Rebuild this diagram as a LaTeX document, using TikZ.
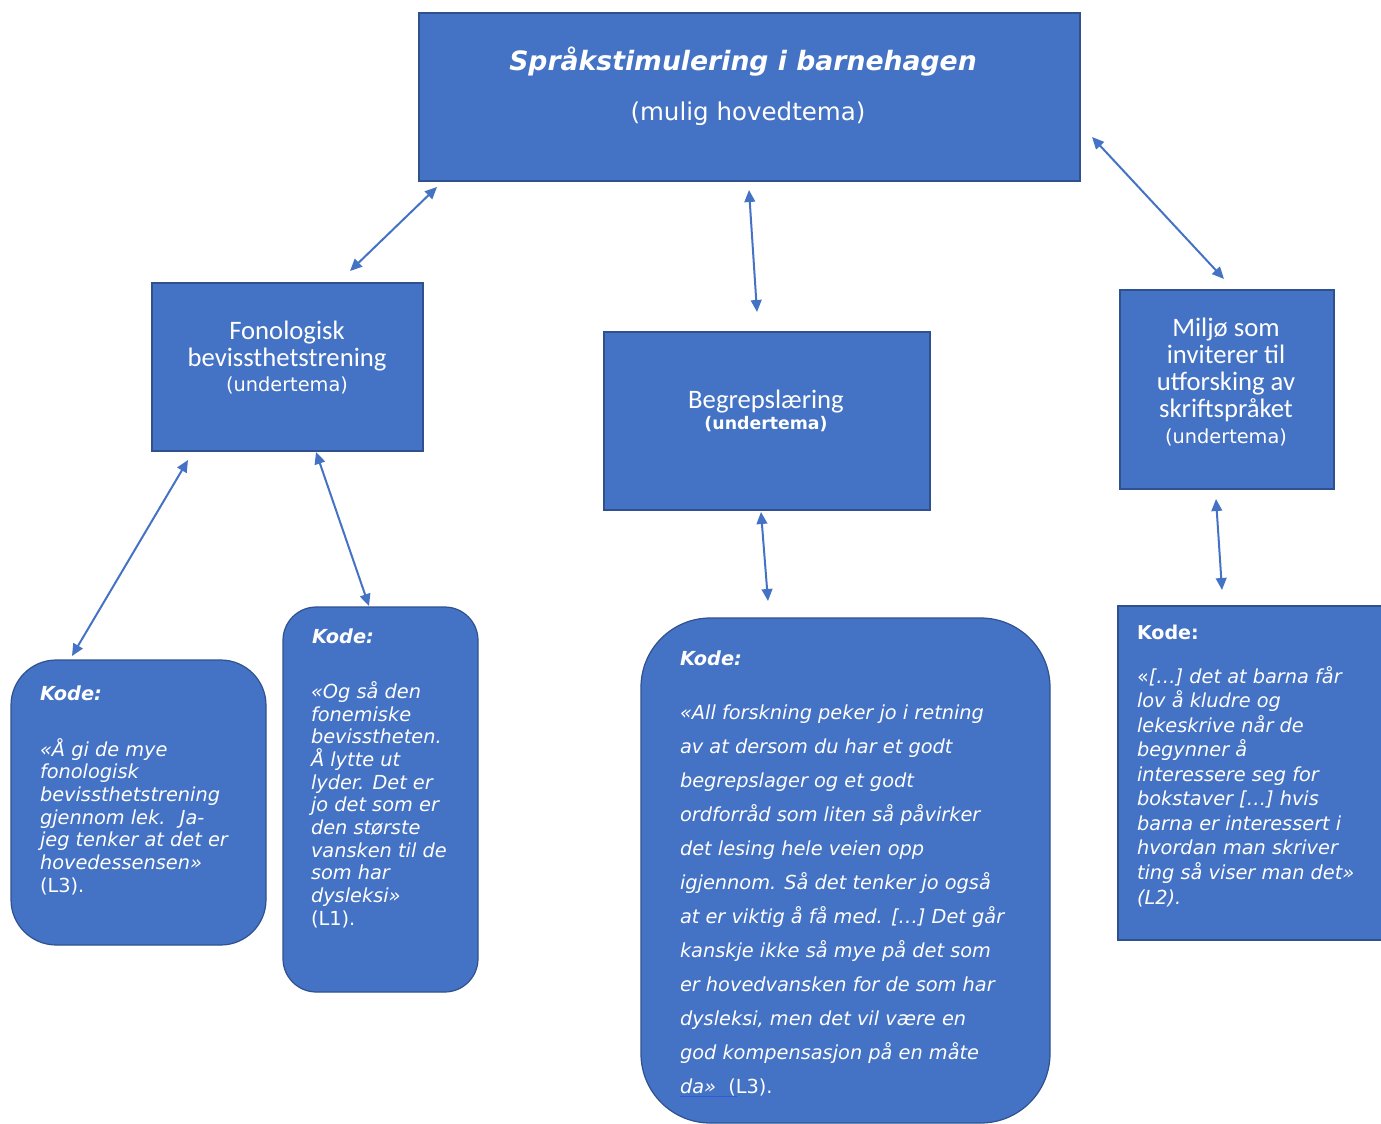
\documentclass[tikz,border=0pt]{standalone}
\usepackage{fontspec}
\setmainfont{DejaVu Sans}
\newfontfamily\calfont{Carlito}
\usetikzlibrary{arrows.meta}
\definecolor{boxblue}{HTML}{4472C4}
\definecolor{edgeblue}{HTML}{2F528F}
\definecolor{linkblue}{HTML}{2E5BD8}
\begin{document}
\begin{tikzpicture}[x=0.75pt,y=-0.75pt,
  box/.style={draw=edgeblue, line width=0.9pt, fill=boxblue, inner sep=0pt, outer sep=0pt},
  rbox/.style={box, rounded corners=#1},
  txt/.style={text=white, inner sep=0pt, outer sep=0pt, anchor=base west, align=left},
  ctxt/.style={text=white, inner sep=0pt, outer sep=0pt, anchor=base, align=center},
  link/.style={draw=boxblue, line width=1.5pt,
    {Triangle[length=9pt,width=8pt]}-{Triangle[length=9pt,width=8pt]}},
  quoteA/.style={txt, font=\fontsize{14.5}{17}\selectfont\itshape},
  quoteB/.style={txt, font=\fontsize{14.5}{25.5}\selectfont\itshape},
  quoteC/.style={txt, font=\fontsize{14.5}{18.4}\selectfont\itshape},
  kodelab/.style={txt, font=\fontsize{14.5}{17}\selectfont\bfseries\itshape},
]
\useasboundingbox (0,0) rectangle (1381,1124);

% boxes
\node[box, minimum width=495.75pt, minimum height=126pt] (top) at (749.5,97) {};
\node[box, minimum width=203.25pt, minimum height=126pt] (fon) at (287.5,367) {};
\node[box, minimum width=244.5pt, minimum height=133.5pt] (beg) at (767,421) {};
\node[box, minimum width=160.5pt, minimum height=149.25pt] (mil) at (1227,389.5) {};
\node[rbox=34pt, minimum width=191.25pt, minimum height=213.75pt] (k1) at (138.5,802.5) {};
\node[rbox=25pt, minimum width=146.25pt, minimum height=288.75pt] (k2) at (380.5,799.5) {};
\node[rbox=52pt, minimum width=306.75pt, minimum height=378.75pt] (k3) at (845.5,870.5) {};
\node[box, minimum width=204pt, minimum height=250.5pt] (k4) at (1254,773) {};

% top texts
\node[ctxt, font=\fontsize{20}{24}\selectfont\bfseries\itshape] (toptitle) at (743,70) {Språkstimulering i barnehagen};
\node[ctxt, font=\fontsize{18.4}{22}\selectfont] (topsub) at (748,120) {(mulig hovedtema)};

% undertema texts (base anchor = last line baseline)
\node[ctxt, font=\fontsize{20}{20.25}\calfont] (fontxt) at (287,366) {Fonologisk\\bevissthetstrening};
\node[ctxt, font=\fontsize{14.5}{17}\selectfont] (fonsub) at (287,391) {(undertema)};
\node[ctxt, font=\fontsize{20}{20}\calfont] (begtxt) at (766,408) {Begrepslæring};
\node[ctxt, font=\fontsize{13}{15}\selectfont\bfseries] (begsub) at (766,429) {(undertema)};
\node[ctxt, font=\fontsize{20}{20.25}\calfont] (miltxt) at (1226,417) {Miljø som\\inviterer til\\utforsking av\\skriftspråket};
\node[ctxt, font=\fontsize{14.5}{17}\selectfont] (milsub) at (1226,443) {(undertema)};

% Kode 1
\node[kodelab] (k1lab) at (40,700) {Kode:};
\node[quoteA] (k1txt) at (40,892) {«Å gi de mye\\fonologisk\\bevissthetstrening\\gjennom lek.~ Ja-\\jeg tenker at det er\\hovedessensen»\\\upshape (L3).};

% Kode 2
\node[kodelab] (k2lab) at (312,643) {Kode:};
\node[quoteA] (k2txt) at (311,925) {«Og så den\\fonemiske\\bevisstheten.\\Å lytte ut\\lyder. Det er\\jo det som er\\den største\\vansken til de\\som har\\dysleksi»\\\upshape (L1).};

% Kode 3
\node[kodelab] (k3lab) at (680,665) {Kode:};
\node[quoteB] (k3txt) at (680,1093) {«All forskning peker jo i retning\\av at dersom du har et godt\\begrepslager og et godt\\ordforråd som liten så påvirker\\det lesing hele veien opp\\igjennom. Så det tenker jo også\\at er viktig å få med. […] Det går\\kanskje ikke så mye på det som\\er hovedvansken for de som har\\dysleksi, men det vil være en\\god kompensasjon på en måte\\\makebox[0pt][l]{\color{linkblue}\rule[-3pt]{43pt}{1pt}}da»~~{\upshape (L3).}};

% Kode 4
\node[txt, font=\fontsize{14.3}{17}\selectfont\bfseries] (k4lab) at (1137,639) {Kode:};
\node[quoteC] (k4txt) at (1137,904) {{\upshape«}[…] det at barna får\\lov å kludre og\\lekeskrive når de\\begynner å\\interessere seg for\\bokstaver […] hvis\\barna er interessert i\\hvordan man skriver\\ting så viser man det»\\(L2).};

% connectors
\coordinate (a1a) at (437,187); \coordinate (a1b) at (350,271);
\coordinate (a2a) at (749,190); \coordinate (a2b) at (757,312);
\coordinate (a3a) at (1092,137); \coordinate (a3b) at (1224,279);
\coordinate (a4a) at (188,460); \coordinate (a4b) at (72,656);
\coordinate (a5a) at (316,452); \coordinate (a5b) at (369,606);
\coordinate (a6a) at (761,512); \coordinate (a6b) at (768,601);
\coordinate (a7a) at (1216,499); \coordinate (a7b) at (1222,590);
\draw[link] (a1a) -- (a1b);
\draw[link] (a2a) -- (a2b);
\draw[link] (a3a) -- (a3b);
\draw[link] (a4a) -- (a4b);
\draw[link] (a5a) -- (a5b);
\draw[link] (a6a) -- (a6b);
\draw[link] (a7a) -- (a7b);
\end{tikzpicture}
\end{document}
